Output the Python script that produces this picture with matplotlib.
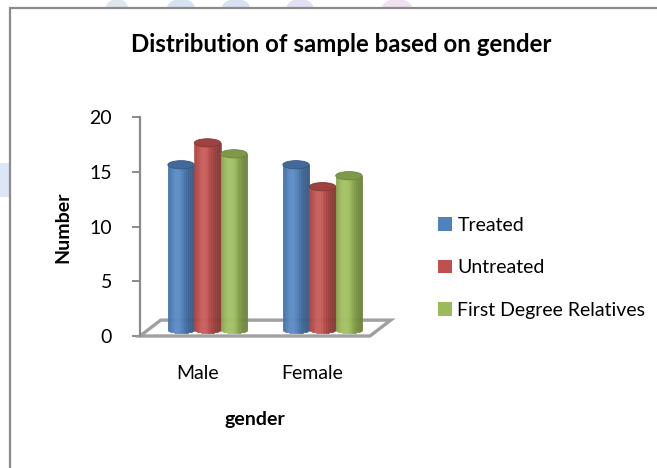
import numpy as np
import matplotlib
matplotlib.use('Agg')
import matplotlib.pyplot as plt
from matplotlib.patches import Ellipse, Rectangle, Polygon
from matplotlib.transforms import ScaledTranslation
from matplotlib import colors as mcolors

genders = ['Male', 'Female']
series = ['Treated', 'Untreated', 'First Degree Relatives']
treated = [15, 15]
untreated = [17, 13]
relatives = [16, 14]
palette = ['#4F81BD', '#C0504D', '#9BBB59']
yticks = [0, 5, 10, 15, 20]

plt.rcParams['font.family'] = ['Lato', 'DejaVu Sans']

W, H = 657, 468
fig = plt.figure(figsize=(W / 100, H / 100), dpi=100)


def fx(px):
    return px / W


def fy(py):
    return 1 - py / H


# faint shapes peeking above the chart frame
blobs = [(117, 22, '#dde5ee'), (181, 28, '#d6e2f2'), (236, 28, '#d8e0f2'),
         (300, 27, '#e3dff2'), (397, 30, '#f0e0f0')]
for cx, bw, bc in blobs:
    fig.add_artist(Ellipse((fx(cx), fy(8)), fx(bw), 18 / H, facecolor=bc,
                           edgecolor='none', zorder=-3))
fig.add_artist(Rectangle((0, fy(197)), fx(10), 34 / H, facecolor='#dce6f4',
                         edgecolor='none', zorder=-3))

# chart frame
fig.add_artist(Rectangle((fx(10), -0.1), 1.2, fy(8) + 0.1, facecolor='white',
                         edgecolor='#8a8a8a', linewidth=1.6, zorder=-1))

ax = fig.add_axes([fx(140), fy(336), fx(370) - fx(140), fy(117) - fy(336)])
ax.patch.set_visible(False)
ax.set_xlim(-0.5, 1.5)
ax.set_ylim(0, 20)
for s in ['top', 'right', 'bottom']:
    ax.spines[s].set_visible(False)
ax.spines['left'].set_color('#8a8a8a')
ax.spines['left'].set_linewidth(1.6)
ax.set_yticks(yticks)
ax.tick_params(axis='y', direction='out', length=6, width=1.4, color='#8a8a8a',
               labelsize=14, pad=14)
ax.set_xticks(range(len(genders)))
ax.set_xticklabels(genders)
ax.tick_params(axis='x', length=0, labelsize=14, pad=21)

# floor of the 3d plot
depth_x, depth_y = 0.18, 1.45
floor = Polygon([(-0.5, 0), (1.5, 0), (1.5 + depth_x, depth_y), (-0.5 + depth_x, depth_y)],
                closed=True, facecolor='white', edgecolor='#a0a0a0', linewidth=2.4,
                clip_on=False, zorder=2)
ax.add_patch(floor)


def shade(base, k):
    b = np.array(mcolors.to_rgb(base))
    if k < 1:
        return tuple(b * k)
    return tuple(b + (1 - b) * (k - 1))


bar_w = 0.23
cap_h = 0.75
n = 40
tr = ax.transData + ScaledTranslation(0.10, 0.07, fig.dpi_scale_trans)
u = (np.arange(n) + 0.5) / n
prof = 0.76 + 0.36 * np.exp(-((u - 0.36) / 0.32) ** 2) - 0.06 * u

for i, (vals, col) in enumerate(zip([treated, untreated, relatives], palette)):
    cols = [shade(col, k) for k in prof]
    for g, v in enumerate(vals):
        c = g + (i - 1) * bar_w
        xs = c - bar_w / 2 + u * bar_w
        bot = -cap_h / 2 * np.sqrt(1 - (2 * u - 1) ** 2)
        ax.bar(xs, v - bot, bottom=bot, width=bar_w / n, color=cols, edgecolor=cols,
               linewidth=0.4, transform=tr, zorder=3, clip_on=False)
        ax.add_patch(Ellipse((c, v), bar_w, cap_h, facecolor=shade(col, 0.82),
                             edgecolor=shade(col, 0.7), linewidth=0.6, transform=tr,
                             zorder=4, clip_on=False))

ax.set_ylabel('Number', fontsize=14, fontweight='bold')
ax.yaxis.set_label_coords(fx(71), fy(227), transform=fig.transFigure)
ax.set_xlabel('gender', fontsize=14, fontweight='bold')
ax.xaxis.set_label_coords(fx(255), fy(411), transform=fig.transFigure)
fig.text(fx(341), fy(45), 'Distribution of sample based on gender', ha='center',
         va='center', fontsize=17.3, fontweight='bold')

handles = [Rectangle((0, 0), 1, 1, facecolor=c) for c in palette]
ax.legend(handles, series, loc='upper left', bbox_to_anchor=(fx(438), fy(217)),
          bbox_transform=fig.transFigure, frameon=False, handlelength=0.7,
          handleheight=0.7, handletextpad=0.3, labelspacing=1.3, fontsize=14,
          borderaxespad=0, borderpad=0)

fig.savefig('out.png', dpi=100)
